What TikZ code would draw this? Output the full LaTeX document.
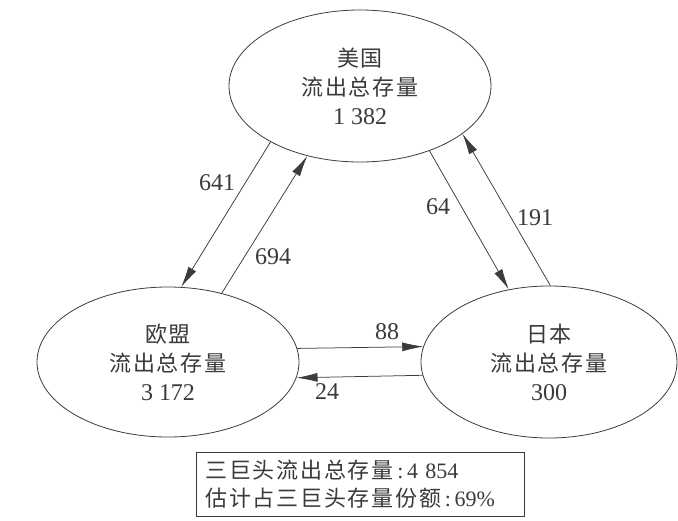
\documentclass[tikz,border=0pt]{standalone}
\usepackage{fontspec}
\setmainfont{Liberation Serif}
\newfontfamily\cjkfont[LetterSpace=8]{Noto Sans CJK SC}
\usetikzlibrary{shapes.geometric,arrows.meta}
\definecolor{ink}{HTML}{3A3A3A}
\definecolor{linec}{HTML}{3C3C3C}
\newcommand\numtxt[1]{{\fontsize{24}{29}\selectfont #1}}
\begin{document}
\begin{tikzpicture}[x=1pt,y=-1pt,
  region/.style={ellipse, draw=linec, line width=0.8pt, inner sep=0pt, align=center,
    text=ink, font=\fontsize{22}{29}\selectfont},
  flow/.style={draw=linec, line width=0.75pt, -{Latex[length=21pt,width=9pt]}},
  lbl/.style={text=ink, font=\fontsize{24}{29}\selectfont, inner sep=0pt},
  infobox/.style={draw=linec, line width=0.8pt, rectangle, text=ink, align=left,
    font=\fontsize{22}{27}\selectfont, inner xsep=9pt, inner ysep=0pt, anchor=north west}
]
\useasboundingbox (0,0) rectangle (678,520);
\fill[white] (0,0) rectangle (678,520);

\node[region, minimum width=262pt, minimum height=152pt] (us) at (360,86)
  {{\cjkfont 美国}\\{\cjkfont 流出总存量}\\\numtxt{1 382}};
\node[region, minimum width=262pt, minimum height=150pt] (eu) at (168,362)
  {{\cjkfont 欧盟}\\{\cjkfont 流出总存量}\\\numtxt{3 172}};
\node[region, minimum width=256pt, minimum height=152pt] (jp) at (549,362)
  {{\cjkfont 日本}\\{\cjkfont 流出总存量}\\\numtxt{300}};

\draw[flow] (us.212.3) -- (eu.80.9);
\draw[flow] (eu.52.4) -- (us.233.3);
\draw[flow] (us.317.6) -- (jp.119.1);
\draw[flow] (jp.89.3) -- (us.335.3);
\draw[flow] (eu.6.6) -- (jp.173.4);
\draw[flow] (jp.186.6) -- (eu.353.4);

\node[lbl] (l641) at (217,183) {641};
\node[lbl] (l694) at (273,257) {694};
\node[lbl] (l64) at (438,207) {64};
\node[lbl] (l191) at (535,218) {191};
\node[lbl] (l88) at (387,332) {88};
\node[lbl] (l24) at (327,392) {24};

\node[infobox, minimum width=328pt, minimum height=64pt, text width=310pt] (box) at (196,452)
  {{\cjkfont 三巨头流出总存量}\,:\,4 854\\[1pt]{\cjkfont 估计占三巨头存量份额}\,:\,69\%};
\end{tikzpicture}
\end{document}
